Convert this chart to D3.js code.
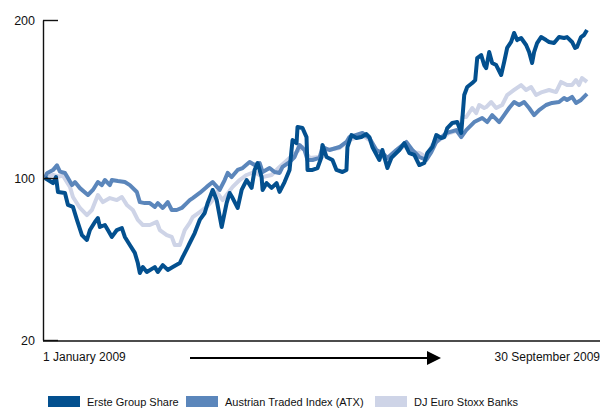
<!DOCTYPE html>
<html><head><meta charset="utf-8">
<script src="https://cdn.jsdelivr.net/npm/d3@7/dist/d3.min.js"></script>
<style>
html,body{margin:0;padding:0;background:#fff;}
svg{display:block;font-family:"Liberation Sans",Arial,sans-serif;}
</style></head>
<body><svg id="c" width="601" height="410"></svg>
<script>
// Day index since 1 January 2009 (0..272 = 30 September 2009), indexed value (start = 100)
const ersteDays = [0,4,5.5,6.5,10,11.5,14,16,18.5,21,22.5,25,26.5,27.5,30,31.5,33.5,36,38.5,40,42.5,45,46.5,47.5,49,51,55,56.5,59,61.5,64,67.5,69,71.5,72.5,75,77.5,80,81.5,84,86,88.5,91,92.5,94,96.5,98.5,101,103.5,105,106.5,108.5,109,111,113.5,116,117.5,120,122.5,124,126,126.5,129,131,131.5,134,136.5,138.5,139,141,144,146,149,151,151.5,153.5,156,158.5,161,162.5,164,167.5,169,171.5,173.5,177.5,180,182.5,185,187.5,190,191.5,194,196,198.5,200,201.5,204,206.5,208.5,210,211.5,214,215.5,216.5,218.5,220,221,222.5,224,226,228.5,230,231.5,233.5,235,236.5,238.5,241,242.5,244,245,246.5,248.5,251,252.5,255,257.5,260,261.5,264,265.5,266.5,268.5,270,271.5];
const ersteValues = [100,97.5,100.6,93.1,92.6,86.7,85.7,79.3,71.8,69.4,74.3,78.3,80.2,75.8,76.8,74.3,70.9,74.3,75.3,70.9,66.9,63,58,53.1,56,53.6,56,53.6,57,54.6,56,58,61,65.9,67.9,72.8,79.3,82.7,87.7,94.1,89.1,75.8,87.7,92.6,90.1,85.2,94.1,99,95.1,105.1,109.5,100.6,94.1,97.5,95.1,97.5,93.1,98,105.1,124,122.1,132.3,131.6,125.9,105.1,105.1,106.3,113.3,120.9,113.3,111.4,105.1,103.8,105.1,119.6,127.2,125.3,125.9,127.8,125.9,119.6,111.4,117.7,106.3,112.7,117.7,122.1,115.8,114.6,108.2,109.5,115.8,119.6,127.2,125.3,125.9,131.6,134.8,135.4,128.5,152.5,157.6,160.1,162,175.9,177.8,171.5,169.6,179.7,172.8,171.5,165.2,173.4,182.3,186.1,191.8,187.3,188.6,184.2,179.7,172.8,179.7,185.4,189.2,187.3,186.1,185.4,189.2,188.6,189.2,186.1,182.3,182.9,189.2,190.5,193.7];

const atxDays = [0,1,4,6,7.5,10,11.5,13.5,15,17.5,21.5,24,26.5,28.5,30,32.5,33.5,36.5,40,42.5,46,47.5,50,52.5,55,56.5,59,61.5,63.5,66,68.5,71,72.5,74,77.5,81,84,87.5,90,91.5,93.5,96.5,99,102.5,105,107.5,109,112.5,115,117.5,119,122.5,125,127.5,130,131.5,134,137.5,139,142.5,147.5,151,152.5,159,162.5,166,169,171.5,176,181,184,187.5,191,193.5,196,201,202.5,206,208.5,211,215,219,221.5,224,227.5,230,232.5,235,237.5,240,242.5,245,247.5,251,254,257.5,260,261.5,264,266,268.5,271.5];
const atxValues = [100,103,105,108,104,103.2,100,96.5,98,95,91.6,94.1,98,96.5,99,96.5,99,98.5,98,96.5,93.1,88.1,87.6,87.6,85.7,87.6,85.2,88.1,84.2,84.2,85.2,87.6,89.1,90.1,92.6,95.6,98,94.1,99,103.2,100.6,105.1,106.3,110.1,108.2,109.5,103.8,106.3,103.8,103.2,107,110.1,113.3,120.9,117.7,111.4,111.4,112.7,119.6,117.7,119.6,122.8,125.9,128.5,125.3,117.7,115.8,112.7,117.7,122.8,117.7,113.3,111.4,116.4,122.8,128.5,129,130.3,125.9,130.3,135.4,138,135.4,139.8,135.4,139.8,144.3,148.1,146.2,148.1,144.3,139.8,143,146.2,147.5,148.1,150.6,149.4,151.3,147.5,149.4,153.2];

const djDays = [0,4,7,9,12.5,14,17.5,21,23.5,26.5,29,32.5,36,38.5,41,44,46.5,49,52.5,56,57.5,61,63.5,65,67.5,70,72.5,74,77.5,81,84,86,89,94,97.5,101,105,109,113.5,117.5,122.5,126,129,132.5,137.5,141,147.5,152.5,159,162.5,166,171.5,176,181,184,187.5,191,194,197.5,202.5,207.5,209,211,214,216,217.5,220,221,223.5,226,229,231.5,235,238.5,241,243.5,246,249,252.5,256,258.5,261.5,264,266,267.5,269,271.5];
const djValues = [100,102,101,101.5,95.6,90.6,85.2,81.7,84.2,91.6,88.1,90.1,89.1,90.6,86.7,84.2,79.3,76.8,76.8,78.3,74.3,71.8,70.9,66.9,66.9,74.3,77.8,80.7,83.2,85.7,89.1,93.1,89.1,95.6,99,101.9,103.8,100.6,101.9,107,112.7,116.4,119.6,112.7,113.3,117.7,119,124,127,124,116.4,111.4,116.4,121.5,116.4,115.8,113.3,120.9,124,128.5,130.3,138.6,138.6,144.3,141.1,146.2,144.3,144.9,148.1,144.3,146.2,152.5,155.7,158.8,155.7,157.6,152.5,154.4,155.7,154.4,160.8,158.8,158.8,162,158.8,163.3,160.8];

const yTicks = [20,100,200];
const startLabel = "1 January 2009";
const endLabel = "30 September 2009";
const seriesNames = ["Erste Group Share","Austrian Traded Index (ATX)","DJ Euro Stoxx Banks"];
const seriesColors = ["#03508f","#5b86bb","#ced4e7"];

const svg = d3.select("#c");
const x = d3.scaleLinear().domain([0,272]).range([45,588]);
const y = d3.scaleLinear().domain([20,100,200]).range([340,178,20]);

const series = [
  {days: djDays, values: djValues, color: seriesColors[2]},
  {days: atxDays, values: atxValues, color: seriesColors[1]},
  {days: ersteDays, values: ersteValues, color: seriesColors[0]}
];

const line = d3.line().x(d=>x(d[0])).y(d=>y(d[1]));
series.forEach(s=>{
  const pts = s.days.map((d,i)=>[d, s.values[i]]);
  svg.append("path").datum(pts).attr("d", line)
    .attr("fill","none").attr("stroke", s.color)
    .attr("stroke-width",4).attr("stroke-linejoin","round").attr("stroke-linecap","butt");
});

// y axis
const yAxis = d3.axisLeft(y).tickValues(yTicks).tickSizeInner(-15).tickSizeOuter(0).tickPadding(8).tickFormat(d3.format("d"));
const gy = svg.append("g").attr("transform","translate(43,0)").call(yAxis);
gy.select(".domain").attr("stroke","#111").attr("stroke-width",1.4);
gy.selectAll(".tick line").attr("stroke","#111").attr("stroke-width",1.4);
gy.selectAll(".tick text").attr("font-size",12.5).attr("fill","#111")
  .attr("font-family","Liberation Sans, Arial, sans-serif");

// bottom baseline
svg.append("line").attr("x1",43).attr("x2",600).attr("y1",341).attr("y2",341)
  .attr("stroke","#111").attr("stroke-width",1.4);

// x labels
svg.append("text").attr("x",43).attr("y",361).attr("font-size",12).attr("fill","#111").text(startLabel);
svg.append("text").attr("x",600).attr("y",361).attr("text-anchor","end").attr("font-size",12).attr("fill","#111").text(endLabel);

// arrow
svg.append("line").attr("x1",190).attr("x2",428).attr("y1",358).attr("y2",358)
  .attr("stroke","#000").attr("stroke-width",2);
svg.append("path").attr("d","M427,351 L441,358 L427,365 Z").attr("fill","#000");

// legend
const legX = [48,186,375];
seriesNames.forEach((n,i)=>{
  svg.append("rect").attr("x",legX[i]).attr("y",396).attr("width",32).attr("height",11).attr("fill",seriesColors[i]);
  svg.append("text").attr("x",legX[i]+39).attr("y",406).attr("font-size",11).attr("fill","#111").text(n);
});
</script></body></html>
